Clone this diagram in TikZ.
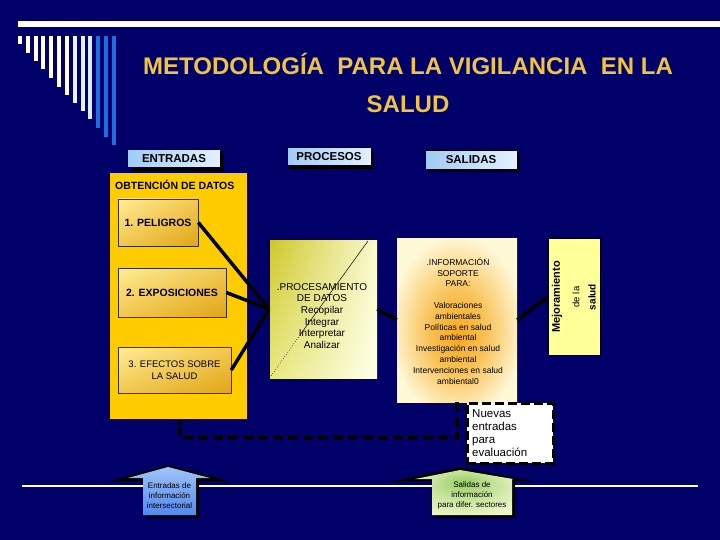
\documentclass[tikz,border=0pt]{standalone}
\usepackage{fontspec}
\setmainfont{Liberation Sans}
\usetikzlibrary{arrows.meta,shadows,shadings}
\definecolor{bg}{RGB}{0,0,104}
\definecolor{titlec}{RGB}{240,196,60}
\definecolor{cream}{RGB}{255,255,228}
\definecolor{barblue}{RGB}{30,110,225}
\definecolor{hdrA}{RGB}{160,203,245}
\definecolor{hdrB}{RGB}{228,240,255}
\definecolor{yel}{RGB}{255,204,0}
\definecolor{gA}{RGB}{255,236,150}
\definecolor{gB}{RGB}{242,200,80}
\definecolor{gC}{RGB}{224,165,20}
\definecolor{glowA}{RGB}{245,170,30}
\definecolor{glowB}{RGB}{255,248,215}
\definecolor{mejc}{RGB}{255,255,153}
\definecolor{blueA}{RGB}{160,195,250}
\definecolor{blueB}{RGB}{85,135,235}
\definecolor{grnA}{RGB}{150,205,100}
\definecolor{grnB}{RGB}{238,246,200}
\definecolor{pA}{RGB}{205,200,45}
\definecolor{pB}{RGB}{232,232,130}
\definecolor{pC}{RGB}{250,250,205}
\definecolor{pD}{RGB}{255,255,235}
\pgfdeclareradialshading{infoglow}{\pgfpoint{0bp}{-5bp}}{color(0bp)=(glowA); color(12bp)=(glowA!70!glowB); color(28bp)=(glowB); color(50bp)=(glowB)}
\pgfdeclareradialshading{greenglow}{\pgfpoint{0bp}{12bp}}{color(0bp)=(grnA); color(14bp)=(grnA!50!grnB); color(32bp)=(grnB); color(50bp)=(grnB)}
\tikzset{
  hdr/.style={draw=black, line width=1pt, left color=hdrA, right color=hdrB, inner sep=0pt,
    font=\fontsize{11.5}{13}\selectfont\bfseries, text=black,
    drop shadow={shadow xshift=3pt, shadow yshift=-3pt, fill=black, opacity=1}},
  gold/.style={draw=black!80, line width=0.6pt, upper left=gA, upper right=gB, lower left=gB, lower right=gC,
    inner sep=0pt, text=black},
  thick line/.style={line width=3.5pt, black},
  txt/.style={inner sep=0pt, align=center, text=black}
}
\begin{document}
\begin{tikzpicture}[x=1pt,y=-1pt]
\useasboundingbox (0,0) rectangle (720,540);
\fill[bg] (0,0) rectangle (720,540);
% decoration
\coordinate (tla) at (18,24);
\coordinate (tlb) at (720,24);
\draw[white, line width=5.5pt] (tla) -- (tlb);
\foreach \i/\yb/\c in {0/44/cream,1/53/cream,2/61/cream,3/69/cream,4/78/cream,5/87/cream,
  6/95/cream!70!white,7/103/hdrB!80!white,8/111/hdrB,9/119/hdrB!90!blueA,
  10/128/barblue,11/137/barblue,12/145/barblue}
  \fill[\c] ({18+7.83*\i},36) rectangle ({22+7.83*\i},\yb);
% title
\node[anchor=base, inner sep=0pt, text=titlec, font=\fontsize{24}{28}\selectfont\bfseries] (t1) at (408,75) {METODOLOGÍA\ \ PARA LA VIGILANCIA\ \ EN LA};
\node[anchor=base, inner sep=0pt, text=titlec, font=\fontsize{24}{28}\selectfont\bfseries] (t2) at (408,113) {SALUD};
% headers
\node[hdr, minimum width=93pt, minimum height=18pt] (entr) at (174,159) {ENTRADAS};
\node[hdr, minimum width=84pt, minimum height=18pt] (proc h) at (329,157) {PROCESOS};
\node[hdr, minimum width=92pt, minimum height=19pt] (sal) at (471,160) {SALIDAS};
% yellow input box
\node[fill=yel, minimum width=137pt, minimum height=246pt, inner sep=0pt] (obt) at (178.5,296) {};
\node[txt, anchor=base west, font=\fontsize{10.5}{12}\selectfont\bfseries] (obtl) at (115,190) {OBTENCIÓN DE DATOS};
\node[gold, minimum width=80pt, minimum height=47pt, font=\fontsize{10.5}{12}\selectfont\bfseries] (pel) at (158,222.5) {1. PELIGROS};
\node[gold, minimum width=108pt, minimum height=49pt, font=\fontsize{10.5}{12}\selectfont\bfseries] (expo) at (172,292.5) {2. EXPOSICIONES};
\node[gold, minimum width=113pt, minimum height=46pt, align=center, font=\fontsize{9.5}{12.5}\selectfont] (efe) at (174.5,370) {3. EFECTOS SOBRE\\LA SALUD};
% processing
\node[minimum width=107pt, minimum height=138pt, inner sep=0pt,
  upper left=pA, lower left=pB, upper right=pC, lower right=pD] (proc) at (323.5,309) {};
\draw[black, line width=0.5pt] (368,241) -- (300,335);
\draw[black, line width=0.6pt, dotted] (300,335) -- (271,376);
\node[txt, font=\fontsize{10}{11.7}\selectfont] (proct) at (322,316) {.PROCESAMIENTO\\DE DATOS\\Recopilar\\Integrar\\Interpretar\\Analizar};
% info
\node[minimum width=120pt, minimum height=164pt, inner sep=0pt, shading=infoglow] (info) at (457,320) {};
\node[txt, font=\fontsize{8.5}{10.8}\selectfont] (infot) at (458,321) {.INFORMACIÓN\\SOPORTE\\PARA:\\[10.8pt]Valoraciones\\ambientales\\Políticas en salud\\ambiental\\Investigación en salud\\ambiental\\Intervenciones en salud\\ambiental0};
% mejoramiento
\node[draw=black, line width=0.8pt, fill=mejc, minimum width=52pt, minimum height=117pt, inner sep=0pt] (mej) at (574,296.5) {};
\node[txt, rotate=90, font=\fontsize{11}{12}\selectfont\bfseries] (mej1) at (557,297) {Mejoramiento};
\node[txt, rotate=90, font=\fontsize{9.5}{10}\selectfont] (mej2) at (576,297) {de la};
\node[txt, rotate=90, font=\fontsize{10}{11}\selectfont\bfseries] (mej3) at (592,297) {salud};
% connectors
\coordinate (conv) at (269,309);
\draw[thick line] (pel.east) -- (conv);
\draw[thick line] (expo.east) -- (conv);
\draw[thick line] (efe.east) -- (conv);
\draw[thick line] (proc.east) -- (info.west);
\draw[thick line, -{Triangle[length=6pt,width=7pt]}] (info.east) -- (mej.west);
% feedback
\coordinate (turn) at (180,438);
\draw[black, line width=3.5pt, dash pattern=on 10pt off 5pt] (info.south) |- (turn) -- ([yshift=-8pt]turn |- obt.south);
\draw[black, line width=1.5pt, -{Triangle[length=5pt,width=6pt]}] ([yshift=-7pt]turn |- obt.south) -- (turn |- obt.south);
\node[fill=white, draw=black, line width=3pt, dash pattern=on 9pt off 4pt, minimum width=86pt, minimum height=60pt, inner sep=0pt] (nue) at (510,433) {};
\node[txt, align=left, anchor=west, font=\fontsize{11.5}{13.2}\selectfont] (nuet) at (472,433) {Nuevas\\entradas\\para\\evaluación};
% bottom white line
\coordinate (bla) at (22,486);
\coordinate (blb) at (698,486);
\draw[white, line width=2.5pt] (bla) -- (blb);
% bottom arrows
\fill[black] (168,465) -- (230,481) -- (199,481) -- (199,518) -- (146,518) -- (146,481) -- (110,481) -- cycle;
\shade[top color=blueA, bottom color=blueB] (168,467) -- (210,478) -- (196,478) -- (196,515) -- (143,515) -- (143,478) -- (128,478) -- cycle;
\node[txt, font=\fontsize{8}{10}\selectfont] (ein) at (169.5,496) {Entradas de\\información\\intersectorial};
\fill[black] (460,467) -- (532,481) -- (515,481) -- (515,518) -- (435,518) -- (435,481) -- (392,481) -- cycle;
\shade[shading=greenglow] (460,470) -- (513,479) -- (512,479) -- (512,515) -- (432,515) -- (432,479) -- (415,479) -- cycle;
\node[txt, font=\fontsize{8}{10}\selectfont] (eout) at (472,495) {Salidas de\\información\\para difer. sectores};
\end{tikzpicture}
\end{document}
